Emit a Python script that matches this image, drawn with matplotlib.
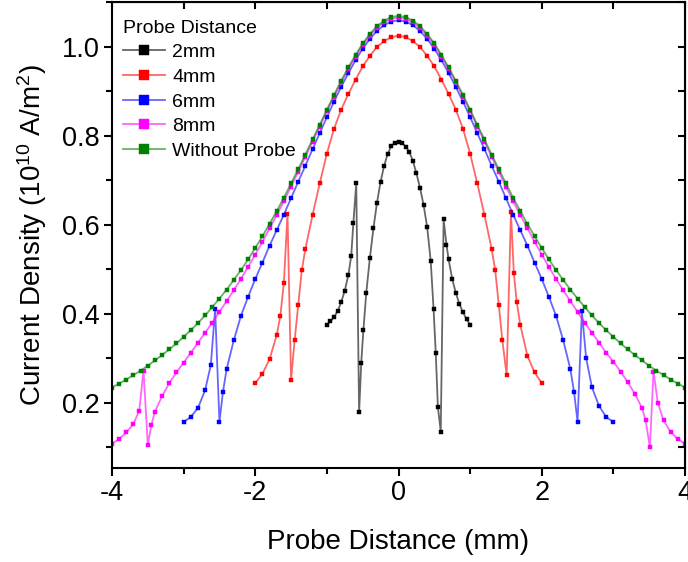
import numpy as np
import matplotlib
matplotlib.use("Agg")
import matplotlib.pyplot as plt
from matplotlib.ticker import MultipleLocator, NullFormatter

plt.rcParams["font.family"] = ["Liberation Sans", "DejaVu Sans"]
plt.rcParams["mathtext.fontset"] = "custom"
plt.rcParams["mathtext.rm"] = "Liberation Sans"
plt.rcParams["mathtext.default"] = "regular"
plt.rcParams["axes.unicode_minus"] = False

# ---- data ----
x_2mm = [-1.0, -0.95, -0.9, -0.85, -0.8, -0.75, -0.7, -0.66, -0.63, -0.59, -0.55, -0.52,
         -0.49, -0.45, -0.4, -0.35, -0.3, -0.25, -0.2, -0.15, -0.1, -0.05, 0.0,
         0.05, 0.1, 0.15, 0.2, 0.25, 0.3, 0.35, 0.4, 0.45, 0.49, 0.52, 0.55, 0.59,
         0.63, 0.67, 0.7, 0.75, 0.8, 0.85, 0.9, 0.95, 1.0]
y_2mm = [0.375, 0.383, 0.392, 0.406, 0.426, 0.452, 0.487, 0.530, 0.605, 0.693, 0.178, 0.290,
         0.364, 0.447, 0.525, 0.592, 0.650, 0.697, 0.733, 0.760, 0.777, 0.785, 0.787,
         0.784, 0.776, 0.764, 0.744, 0.716, 0.683, 0.645, 0.595, 0.518, 0.410, 0.312, 0.190, 0.135,
         0.612, 0.555, 0.522, 0.478, 0.447, 0.422, 0.403, 0.388, 0.375]

x_4mm = [-2.0, -1.9, -1.8, -1.7, -1.65, -1.6, -1.55, -1.5, -1.45, -1.4, -1.35, -1.3, -1.2,
         -1.1, -1.0, -0.9, -0.8, -0.7, -0.6, -0.5, -0.4, -0.3, -0.2, -0.1, 0.0,
         0.1, 0.2, 0.3, 0.4, 0.5, 0.6, 0.7, 0.8, 0.9, 1.0, 1.1, 1.2, 1.3, 1.35, 1.4,
         1.45, 1.51, 1.57, 1.61, 1.65, 1.7, 1.8, 1.9, 2.0]
y_4mm = [0.244, 0.265, 0.298, 0.352, 0.395, 0.470, 0.625, 0.252, 0.340, 0.420, 0.498, 0.546, 0.622,
         0.693, 0.760, 0.816, 0.859, 0.894, 0.926, 0.956, 0.980, 1.000, 1.013, 1.022, 1.025,
         1.022, 1.013, 1.000, 0.980, 0.956, 0.926, 0.894, 0.859, 0.816, 0.760, 0.693, 0.622, 0.546, 0.498, 0.420,
         0.340, 0.262, 0.628, 0.492, 0.427, 0.375, 0.305, 0.268, 0.244]

x_6mm = [-3.0, -2.9, -2.8, -2.7, -2.62, -2.56, -2.5, -2.45, -2.4, -2.3, -2.2, -2.1, -2.0,
         -1.9, -1.8, -1.7, -1.6, -1.5, -1.4, -1.3, -1.2, -1.1, -1.0, -0.9, -0.8, -0.7,
         -0.6, -0.5, -0.4, -0.3, -0.2, -0.1, 0.0, 0.1, 0.2, 0.3, 0.4, 0.5, 0.6, 0.7,
         0.8, 0.9, 1.0, 1.1, 1.2, 1.3, 1.4, 1.5, 1.6, 1.7, 1.8, 1.9, 2.0, 2.1, 2.2,
         2.3, 2.4, 2.45, 2.5, 2.56, 2.62, 2.7, 2.8, 2.9, 3.0]
y_6mm = [0.156, 0.168, 0.188, 0.228, 0.285, 0.410, 0.157, 0.225, 0.275, 0.340, 0.395, 0.438, 0.478,
         0.515, 0.553, 0.588, 0.623, 0.660, 0.697, 0.733, 0.770, 0.806, 0.842, 0.877, 0.910, 0.941,
         0.970, 0.996, 1.018, 1.036, 1.049, 1.057, 1.060, 1.057, 1.049, 1.036, 1.018, 0.996, 0.970, 0.941,
         0.910, 0.877, 0.842, 0.806, 0.770, 0.733, 0.697, 0.660, 0.623, 0.588, 0.553, 0.515, 0.478, 0.438, 0.395,
         0.340, 0.275, 0.225, 0.157, 0.405, 0.300, 0.235, 0.192, 0.168, 0.156]

x_8mm = [-4.0, -3.9, -3.8, -3.7, -3.62, -3.56, -3.5, -3.45, -3.4, -3.3, -3.2, -3.1, -3.0,
         -2.9, -2.8, -2.7, -2.6, -2.5, -2.4, -2.3, -2.2, -2.1, -2.0, -1.9, -1.8, -1.7,
         -1.6, -1.5, -1.4, -1.3, -1.2, -1.1, -1.0, -0.9, -0.8, -0.7, -0.6, -0.5, -0.4,
         -0.3, -0.2, -0.1, 0.0, 0.1, 0.2, 0.3, 0.4, 0.5, 0.6, 0.7, 0.8, 0.9, 1.0, 1.1,
         1.2, 1.3, 1.4, 1.5, 1.6, 1.7, 1.8, 1.9, 2.0, 2.1, 2.2, 2.3, 2.4, 2.5, 2.6, 2.7,
         2.8, 2.9, 3.0, 3.1, 3.2, 3.3, 3.4, 3.45, 3.51, 3.56, 3.62, 3.7, 3.8, 3.9, 4.0]
y_8mm = [0.108, 0.118, 0.133, 0.152, 0.182, 0.272, 0.105, 0.150, 0.180, 0.215, 0.244, 0.268, 0.290,
         0.312, 0.335, 0.357, 0.380, 0.404, 0.428, 0.453, 0.478, 0.505, 0.533, 0.562, 0.592, 0.622,
         0.653, 0.686, 0.719, 0.753, 0.787, 0.821, 0.855, 0.888, 0.920, 0.950, 0.978, 1.004, 1.025,
         1.043, 1.055, 1.063, 1.066, 1.063, 1.055, 1.043, 1.025, 1.004, 0.978, 0.950, 0.920, 0.888, 0.855, 0.821,
         0.787, 0.753, 0.719, 0.686, 0.653, 0.622, 0.592, 0.562, 0.533, 0.505, 0.478, 0.453, 0.428, 0.404, 0.380, 0.357,
         0.335, 0.312, 0.292, 0.270, 0.246, 0.220, 0.188, 0.160, 0.100, 0.270, 0.200, 0.160, 0.134, 0.118, 0.108]

x_none = np.linspace(-4, 4, 81)
y_none = [0.234, 0.243, 0.252, 0.262, 0.272, 0.283, 0.295, 0.307, 0.320, 0.333, 0.348,
          0.363, 0.379, 0.396, 0.415, 0.434, 0.454, 0.476, 0.498, 0.522, 0.548,
          0.574, 0.602, 0.631, 0.661, 0.693, 0.725, 0.758, 0.792, 0.825, 0.859,
          0.892, 0.924, 0.954, 0.982, 1.008, 1.029, 1.047, 1.059, 1.067, 1.070,
          1.067, 1.059, 1.047, 1.029, 1.008, 0.982, 0.954, 0.924, 0.892, 0.859,
          0.825, 0.792, 0.758, 0.725, 0.693, 0.661, 0.631, 0.602, 0.574, 0.548,
          0.522, 0.498, 0.476, 0.454, 0.434, 0.415, 0.396, 0.379, 0.363, 0.348,
          0.333, 0.320, 0.307, 0.295, 0.283, 0.272, 0.262, 0.252, 0.243, 0.234]

series = [
    (x_2mm, y_2mm, "2mm", (0, 0, 0)),
    (x_4mm, y_4mm, "4mm", (1, 0, 0)),
    (x_6mm, y_6mm, "6mm", (0, 0, 1)),
    (x_8mm, y_8mm, "8mm", (1, 0, 1)),
    (x_none, y_none, "Without Probe", (0, 0.5, 0)),
]

fig = plt.figure(figsize=(6.88, 5.62), dpi=100)
ax = fig.add_axes([112 / 688, 1 - 468 / 562, 573 / 688, 466 / 562])

for xs, ys, lab, c in series:
    ax.plot(xs, ys, color=c + (0.6,), lw=1.3, marker="s", ms=2.3,
            mfc=c, mec=c, mew=0.3, label=lab)

ax.set_xlim(-4, 4)
ax.set_ylim(0.053, 1.101)
ax.xaxis.set_major_locator(MultipleLocator(2))
ax.xaxis.set_minor_locator(MultipleLocator(1))
ax.yaxis.set_major_locator(MultipleLocator(0.2))
ax.yaxis.set_minor_locator(MultipleLocator(0.1))
ax.tick_params(which="major", direction="out", length=6, width=1.5, labelsize=19.5, pad=3)
ax.tick_params(which="minor", direction="out", length=4, width=1.5)
for s in ax.spines.values():
    s.set_linewidth(1.5)

# inward ticks on the top and right edges
top = ax.secondary_xaxis("top")
top.xaxis.set_major_locator(MultipleLocator(1))
top.xaxis.set_major_formatter(NullFormatter())
top.tick_params(direction="in", length=5, width=1.5)
right = ax.secondary_yaxis("right")
right.yaxis.set_major_locator(MultipleLocator(0.1))
right.yaxis.set_major_formatter(NullFormatter())
right.tick_params(direction="in", length=5, width=1.5)

ax.set_xlabel("Probe Distance (mm)", fontsize=20, labelpad=16)
ax.set_ylabel(r"Current Density (10$^{10}$ A/m$^{2}$)", fontsize=20, labelpad=9)

leg = ax.legend(loc="upper left", bbox_to_anchor=(0.0, 0.985), frameon=False,
                title="Probe Distance", alignment="left", fontsize=14, title_fontsize=14,
                markerscale=3.2, handlelength=2.2, handletextpad=0.35,
                labelspacing=0.36, borderaxespad=0.25, borderpad=0.3)

fig.savefig("out.png", dpi=100)
